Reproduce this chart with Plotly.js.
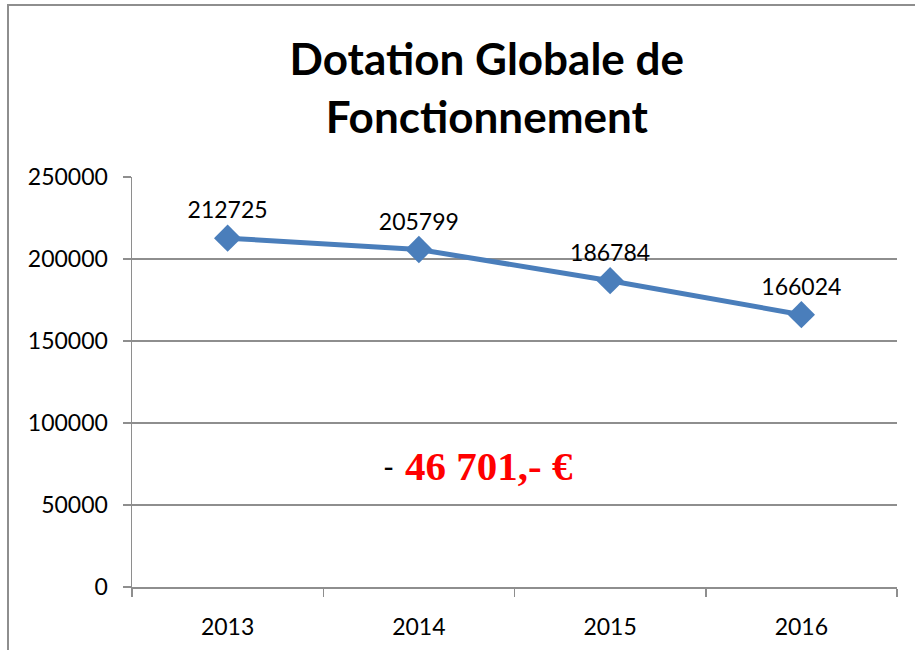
<!DOCTYPE html>
<html>
<head>
<meta charset="utf-8">
<script src="https://cdn.plot.ly/plotly-3.0.1.min.js"></script>
<style>
  html, body { margin: 0; padding: 0; background: #ffffff; overflow: hidden; }
  #chart { width: 915px; height: 650px; position: absolute; left: 0; top: 0; }
  #frame { position: absolute; left: 7px; top: 4px; width: 1000px; height: 800px;
           border-left: 2px solid #8e8e8e; border-top: 2px solid #8e8e8e; pointer-events: none; }
</style>
</head>
<body>
<div id="chart"></div>
<div id="frame"></div>
<script>
const years = ['2013', '2014', '2015', '2016'];
const dotation = [212725, 205799, 186784, 166024];
const yTicks = [0, 50000, 100000, 150000, 200000, 250000];
const titleText = 'Dotation Globale de<br>Fonctionnement';
const diffSign = '-';
const diffLabel = '46 701,- €';

const trace = {
  x: years,
  y: dotation,
  type: 'scatter',
  mode: 'lines+markers+text',
  text: dotation.map(String),
  textposition: 'top center',
  textfont: { family: 'Lato, sans-serif', size: 23, color: '#000000' },
  line: { color: '#4a7ebb', width: 5 },
  marker: { symbol: 'diamond', size: 21, color: '#4a7ebb' },
  cliponaxis: false,
  hoverinfo: 'x+y'
};

const layout = {
  width: 915,
  height: 650,
  margin: { l: 132, r: 18, t: 177, b: 63 },
  paper_bgcolor: '#ffffff',
  plot_bgcolor: '#ffffff',
  showlegend: false,
  title: {
    text: titleText,
    font: { family: 'Lato, sans-serif', size: 44, color: '#000000', weight: 'bold' },
    xref: 'container', x: 0.532, xanchor: 'center',
    yref: 'container', y: 0.884, yanchor: 'middle'
  },
  xaxis: {
    type: 'category',
    range: [-0.5, 3.5],
    showgrid: false,
    showline: true,
    linecolor: '#8e8e8e',
    linewidth: 1.5,
    ticks: 'outside',
    tickson: 'boundaries',
    ticklen: 8,
    tickcolor: '#8e8e8e',
    tickwidth: 1.5,
    ticklabelstandoff: 19,
    tickfont: { family: 'Lato, sans-serif', size: 23, color: '#000000' },
    zeroline: false,
    fixedrange: true
  },
  yaxis: {
    range: [0, 250000],
    tickvals: yTicks,
    ticktext: yTicks.map(String),
    showgrid: true,
    gridcolor: '#8e8e8e',
    gridwidth: 1.5,
    showline: true,
    linecolor: '#8e8e8e',
    linewidth: 1.5,
    ticks: 'outside',
    ticklen: 8,
    tickcolor: '#8e8e8e',
    tickwidth: 1.5,
    ticklabelstandoff: 10,
    tickfont: { family: 'Lato, sans-serif', size: 23, color: '#000000' },
    zeroline: false,
    fixedrange: true
  },
  annotations: [{
    xref: 'x', yref: 'y',
    x: 0.84, y: 73800,
    xanchor: 'center', yanchor: 'middle',
    showarrow: false,
    text: diffSign,
    font: { family: 'Lato, sans-serif', size: 30, color: '#000000' }
  }, {
    xref: 'x', yref: 'y',
    x: 1.367, y: 73800,
    xanchor: 'center', yanchor: 'middle',
    showarrow: false,
    text: diffLabel,
    font: { family: 'Liberation Serif, serif', size: 41, color: '#ff0000', weight: 'bold' }
  }]
};

Plotly.newPlot('chart', [trace], layout, { displayModeBar: false, staticPlot: true });
</script>
</body>
</html>
